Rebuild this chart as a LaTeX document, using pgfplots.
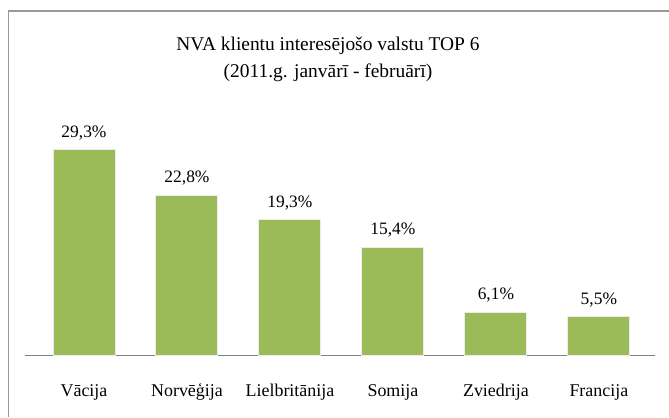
\documentclass[border=0pt]{standalone}
\usepackage{pgfplots}
\pgfplotsset{compat=1.18}
\usepackage{fontspec}
\setmainfont{Liberation Serif}
\definecolor{bargreen}{HTML}{9BBB59}
\begin{document}
\begin{tikzpicture}[x=1bp,y=1bp]
\useasboundingbox (0,0) rectangle (669,417);
\draw[gray!80, line width=1.2bp] (8.5,0) -- (8.5,406) -- (669,406);
\node[align=center, font=\fontsize{19.5}{27}\selectfont] at (328,358) {NVA klientu interesējošo valstu TOP 6\\(2011.g. janvārī - februārī)};
\begin{axis}[
  at={(25bp,62bp)}, anchor=south west,
  scale only axis, width=630bp, height=210bp,
  xmin=-0.573, xmax=5.545, ymin=0, ymax=30,
  axis x line=bottom, axis y line=none,
  x axis line style={-, gray, line width=1bp},
  xtick=data, xtick style={draw=none},
  xticklabels={Vācija, Norvēģija, Lielbritānija, Somija, Zviedrija, Francija},
  xticklabel style={font=\fontsize{18}{20}\selectfont, anchor=base, yshift=-37bp},
  ybar, bar width=62bp, bar shift=0pt,
  nodes near coords={\pgfmathprintnumber[fixed, fixed zerofill, precision=1, use comma, assume math mode=true]{\pgfplotspointmeta}\%},
  nodes near coords style={font=\fontsize{17.5}{20}\selectfont, yshift=6bp},
  clip=false,
]
\addplot[fill=bargreen, draw=white!85!gray, line width=1bp] coordinates {(0,29.3) (1,22.8) (2,19.3) (3,15.4) (4,6.1) (5,5.5)};
\end{axis}
\end{tikzpicture}
\end{document}
